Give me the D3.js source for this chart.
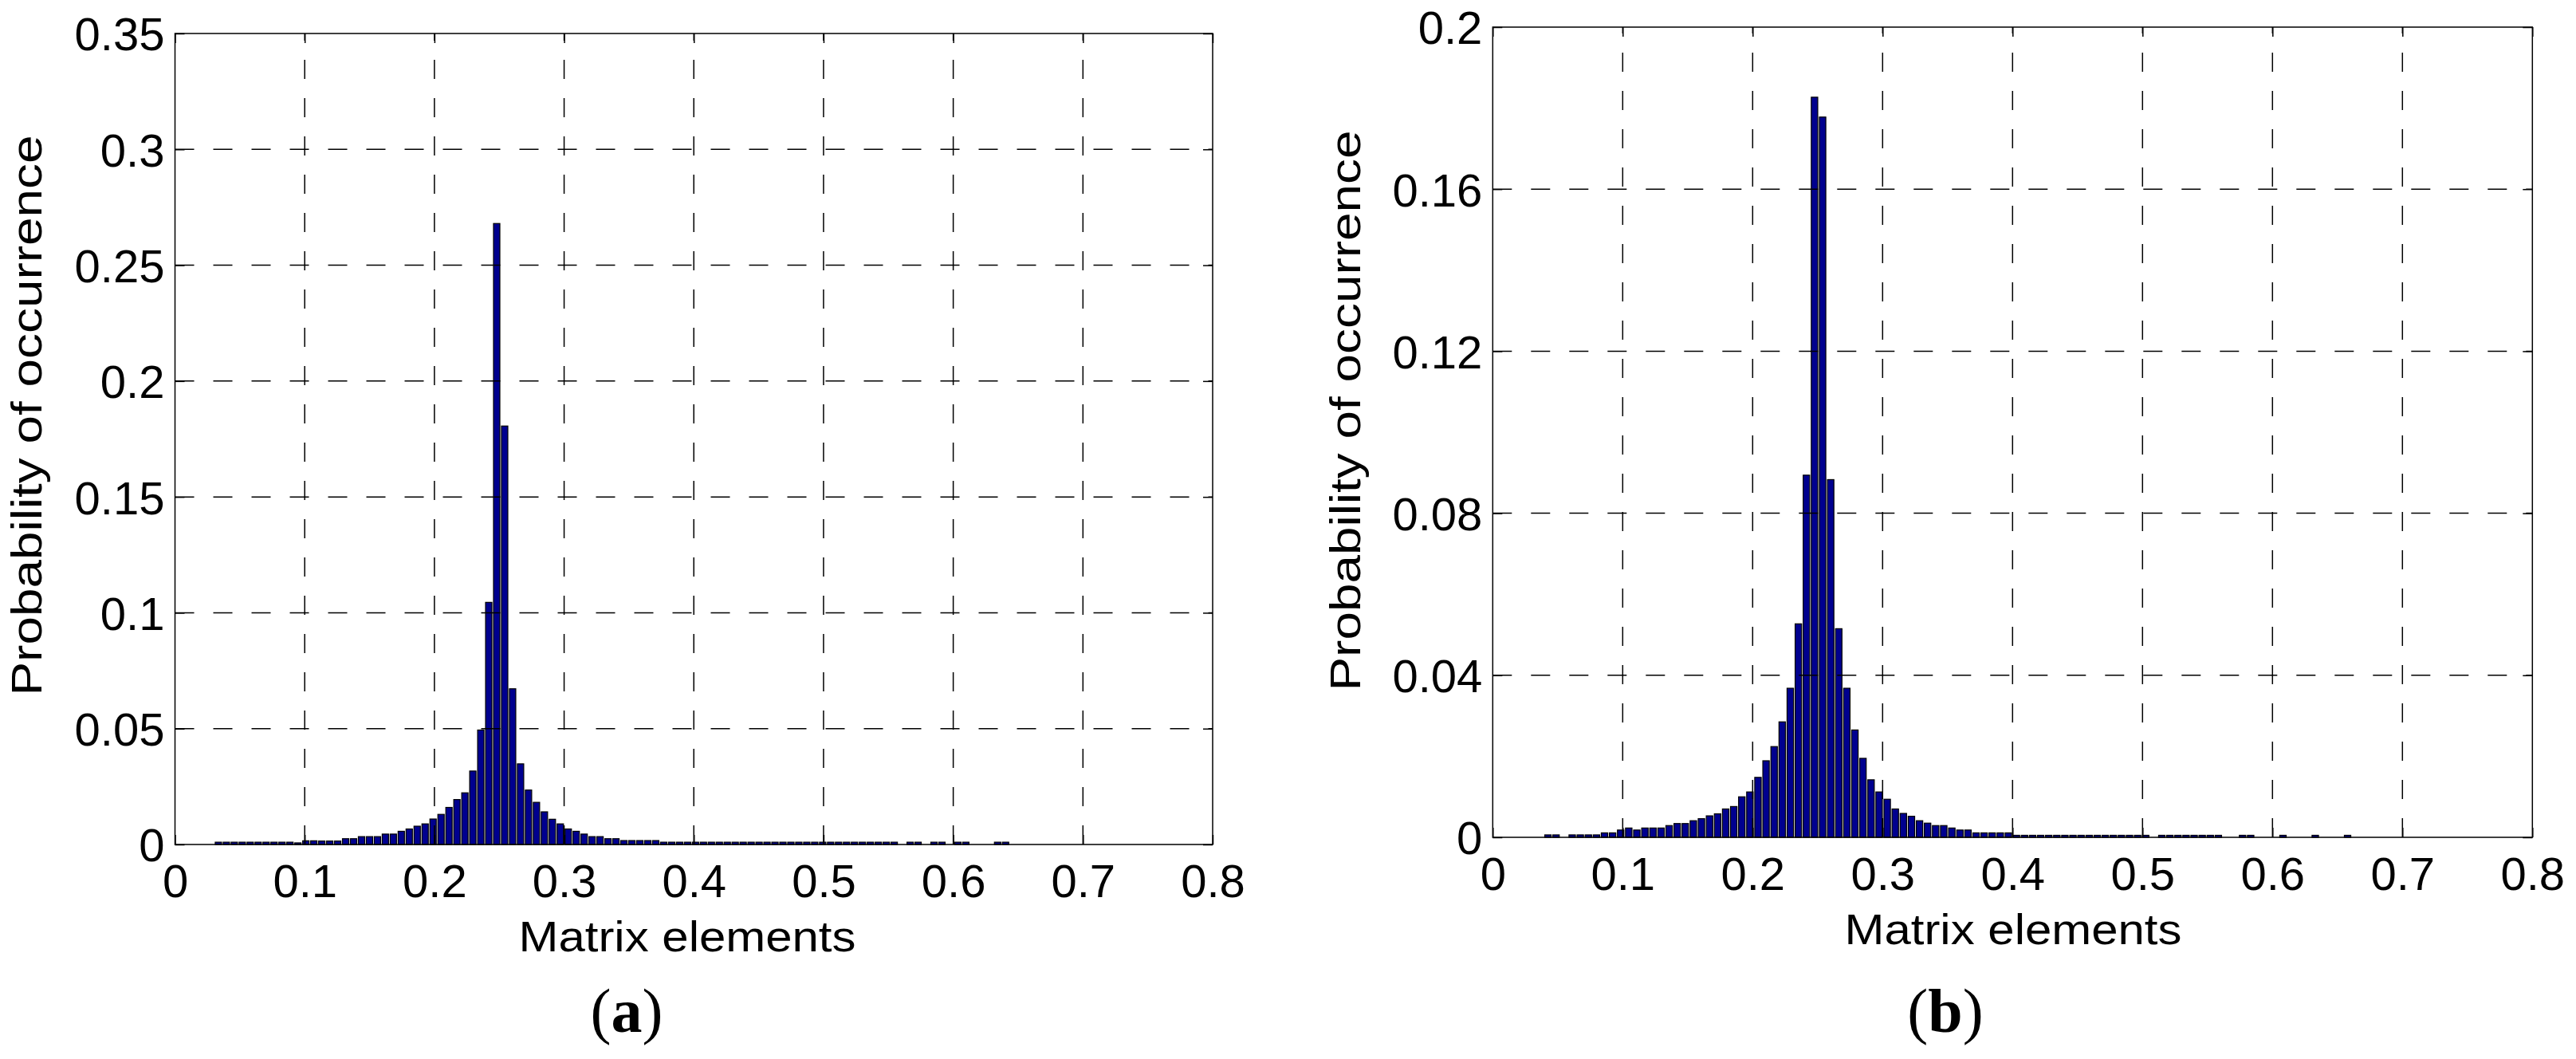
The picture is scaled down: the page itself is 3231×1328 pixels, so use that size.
<!DOCTYPE html>
<html>
<head>
<meta charset="utf-8">
<script src="https://cdn.jsdelivr.net/npm/d3@7"></script>
<style>
  body { margin: 0; background: #fff; }
  svg { display: block; }
</style>
</head>
<body>
<div id="chart"></div>
<script>
const width = 3231
const height = 1328

// tick values / labels
const xTicks = [0, 0.1, 0.2, 0.3, 0.4, 0.5, 0.6, 0.7, 0.8]
const xTickLabels = ["0", "0.1", "0.2", "0.3", "0.4", "0.5", "0.6", "0.7", "0.8"]
const yTicksA = [0, 0.05, 0.1, 0.15, 0.2, 0.25, 0.3, 0.35]
const yTickLabelsA = ["0", "0.05", "0.1", "0.15", "0.2", "0.25", "0.3", "0.35"]
const yTicksB = [0, 0.04, 0.08, 0.12, 0.16, 0.2]
const yTickLabelsB = ["0", "0.04", "0.08", "0.12", "0.16", "0.2"]

// histogram bin ranges (lower edge of first bin, upper edge of last bin)
const binRangeA = [0.0304, 0.6434]
const binRangeB = [0.0394, 0.6609]

// probability per bin, 100 bins each
const probA = [
  0.001, 0.001, 0.001, 0.001, 0.001, 0.001, 0.001, 0.001, 0.001, 0.001,
  0.0007, 0.0016, 0.0016, 0.0015, 0.0015, 0.0015, 0.0025, 0.0025, 0.0034, 0.0034,
  0.0034, 0.0045, 0.0045, 0.0057, 0.0067, 0.0079, 0.0089, 0.011, 0.013, 0.016,
  0.0194, 0.0223, 0.0317, 0.0494, 0.1045, 0.268, 0.1806, 0.0672, 0.0348, 0.0235,
  0.0182, 0.0141, 0.0109, 0.0089, 0.0067, 0.0057, 0.0045, 0.0034, 0.0034, 0.0025,
  0.0025, 0.0017, 0.0017, 0.0017, 0.0017, 0.0017, 0.001, 0.001, 0.001, 0.001,
  0.001, 0.001, 0.001, 0.001, 0.001, 0.001, 0.001, 0.001, 0.001, 0.001,
  0.001, 0.001, 0.001, 0.001, 0.001, 0.001, 0.001, 0.001, 0.001, 0.001,
  0.001, 0.001, 0.001, 0.001, 0.001, 0.001, 0, 0.001, 0.001, 0,
  0.001, 0.001, 0, 0.001, 0.001, 0, 0, 0, 0.001, 0.001
]
const probB = [
  0.0006, 0.0006, 0, 0.0006, 0.0006, 0.0006, 0.0006, 0.0011, 0.0011, 0.0018,
  0.0023, 0.0018, 0.0023, 0.0023, 0.0023, 0.0029, 0.0034, 0.0034, 0.0041, 0.0046,
  0.0053, 0.0058, 0.0070, 0.0076, 0.0100, 0.0112, 0.0148, 0.0189, 0.0224, 0.0285,
  0.0368, 0.0527, 0.0894, 0.1827, 0.1778, 0.0883, 0.0515, 0.0368, 0.0265, 0.0195,
  0.0142, 0.0112, 0.0094, 0.0070, 0.0059, 0.0052, 0.0041, 0.0035, 0.0029, 0.0029,
  0.0023, 0.0018, 0.0018, 0.0011, 0.0011, 0.0011, 0.0011, 0.0011, 0.0005, 0.0005,
  0.0005, 0.0005, 0.0005, 0.0005, 0.0005, 0.0005, 0.0005, 0.0005, 0.0005, 0.0005,
  0.0005, 0.0005, 0.0005, 0.0005, 0.0005, 0, 0.0005, 0.0005, 0.0005, 0.0005,
  0.0005, 0.0005, 0.0005, 0.0005, 0, 0, 0.0005, 0.0005, 0, 0,
  0, 0.0005, 0, 0, 0, 0.0005, 0, 0, 0, 0.0005
]

const xTitle = "Matrix elements"
const yTitle = "Probability of occurrence"

const sans = "'Liberation Sans', Arial, Helvetica, sans-serif"
const serif = "'Liberation Serif', 'Times New Roman', serif"

const svg = d3.select("#chart")
  .append("svg")
    .attr("width", width)
    .attr("height", height)

svg.append("rect").attr("width", width).attr("height", height).attr("fill", "#fff")

function drawPanel(p) {
  const x = d3.scaleLinear().domain([0, 0.8]).range([p.left, p.right])
  const y = d3.scaleLinear().domain([0, p.yTicks[p.yTicks.length - 1]]).range([p.bottom, p.top])

  const bins = d3.scaleBand()
    .domain(d3.range(p.values.length))
    .range([x(p.binRange[0]), x(p.binRange[1])])
    .paddingInner(0.2)
    .paddingOuter(0.1)

  const g = svg.append("g")

  // bars
  g.selectAll("rect.bar")
    .data(p.values.map((v, i) => ({ i, v })).filter(d => d.v > 0))
    .enter()
    .append("rect")
      .attr("class", "bar")
      .attr("x", d => bins(d.i))
      .attr("width", bins.bandwidth())
      .attr("y", d => y(d.v))
      .attr("height", d => y(0) - y(d.v))
      .attr("fill", "#00008f")
      .attr("stroke", "#000")
      .attr("stroke-width", 1.2)

  // dashed grid, on top of the bars
  g.selectAll("line.vgrid")
    .data(xTicks.slice(1, -1))
    .enter()
    .append("line")
      .attr("x1", d => x(d)).attr("x2", d => x(d))
      .attr("y1", p.bottom).attr("y2", p.top)
      .attr("stroke", "#000")
      .attr("stroke-width", 1.5)
      .attr("stroke-dasharray", "24,24")

  g.selectAll("line.hgrid")
    .data(p.yTicks.slice(1, -1))
    .enter()
    .append("line")
      .attr("x1", p.left).attr("x2", p.right)
      .attr("y1", d => y(d)).attr("y2", d => y(d))
      .attr("stroke", "#000")
      .attr("stroke-width", 1.5)
      .attr("stroke-dasharray", "24,24")

  // axes (ticks inside, like MATLAB)
  const bottomAxis = g.append("g")
    .attr("transform", "translate(0," + p.bottom + ")")
    .call(d3.axisBottom(x).tickValues(xTicks)
      .tickFormat((d, i) => xTickLabels[i])
      .tickSizeInner(-12).tickSizeOuter(0).tickPadding(25))
  bottomAxis.attr("font-size", 58).attr("font-family", sans)

  const leftAxis = g.append("g")
    .attr("transform", "translate(" + p.left + ",0)")
    .call(d3.axisLeft(y).tickValues(p.yTicks)
      .tickFormat((d, i) => p.yLabels[i])
      .tickSizeInner(-12).tickSizeOuter(0).tickPadding(13))
  leftAxis.attr("font-size", 58).attr("font-family", sans)
  leftAxis.selectAll("text").attr("dy", "0.36em")

  g.append("g")
    .attr("transform", "translate(0," + p.top + ")")
    .call(d3.axisTop(x).tickValues(xTicks).tickFormat("").tickSizeInner(-12).tickSizeOuter(0))

  g.append("g")
    .attr("transform", "translate(" + p.right + ",0)")
    .call(d3.axisRight(y).tickValues(p.yTicks).tickFormat("").tickSizeInner(-12).tickSizeOuter(0))

  g.selectAll(".domain").remove()
  g.selectAll(".tick line").attr("stroke", "#000").attr("stroke-width", 1.5)
  g.selectAll(".tick text").attr("fill", "#000")

  // frame
  g.append("rect")
    .attr("x", p.left).attr("y", p.top)
    .attr("width", p.right - p.left).attr("height", p.bottom - p.top)
    .attr("fill", "none")
    .attr("stroke", "#000")
    .attr("stroke-width", 1.5)

  // axis titles
  g.append("text")
    .attr("x", p.xTitlePos[0]).attr("y", p.xTitlePos[1])
    .attr("text-anchor", "middle")
    .attr("font-family", sans)
    .attr("font-size", 53)
    .attr("textLength", 423)
    .attr("lengthAdjust", "spacingAndGlyphs")
    .text(xTitle)

  g.append("text")
    .attr("transform", "translate(" + p.yTitlePos[0] + "," + p.yTitlePos[1] + ") rotate(-90)")
    .attr("text-anchor", "middle")
    .attr("font-family", sans)
    .attr("font-size", 53)
    .attr("textLength", 703)
    .attr("lengthAdjust", "spacingAndGlyphs")
    .text(yTitle)

  // (a) / (b)
  const sub = g.append("text")
    .attr("x", p.subPos[0]).attr("y", p.subPos[1])
    .attr("text-anchor", "middle")
    .attr("font-family", serif)
    .attr("font-size", 78)
  sub.append("tspan").text("(")
  sub.append("tspan").attr("font-weight", "bold").text(p.sub)
  sub.append("tspan").text(")")
}

drawPanel({
  left: 219.5, right: 1521, top: 42, bottom: 1059,
  yTicks: yTicksA, yLabels: yTickLabelsA,
  values: probA, binRange: binRangeA,
  xTitlePos: [862, 1193], yTitlePos: [52, 521], subPos: [786, 1294], sub: "a"
})

drawPanel({
  left: 1872.3, right: 3176.3, top: 34, bottom: 1050,
  yTicks: yTicksB, yLabels: yTickLabelsB,
  values: probB, binRange: binRangeB,
  xTitlePos: [2525, 1184], yTitlePos: [1706, 515], subPos: [2440, 1294], sub: "b"
})
</script>
</body>
</html>
